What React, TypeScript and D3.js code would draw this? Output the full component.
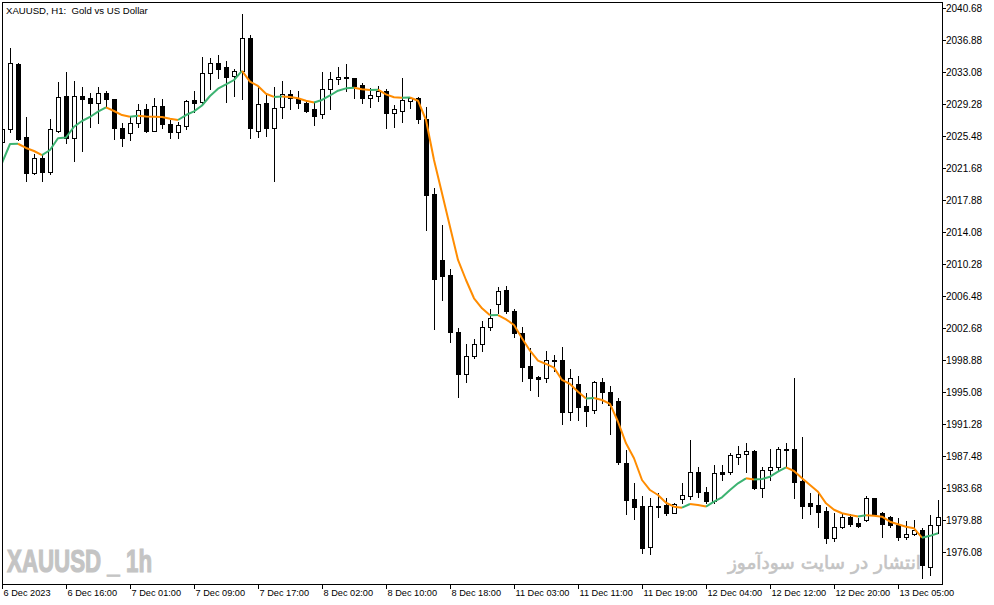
import React, {useEffect, useRef} from 'react';
import * as d3 from 'd3';

// XAUUSD H1 candles, 6 Dec 2023 .. 13 Dec 2023
const open = [
  2024.80, 2026.28, 2034.03, 2025.36, 2021.12, 2022.83, 2021.17, 2026.11, 2030.19, 2025.21,
  2030.27, 2029.99, 2029.43, 2030.55, 2029.87, 2026.43, 2025.80, 2026.99, 2028.69, 2026.11,
  2029.01, 2026.87, 2025.99, 2026.70, 2029.76, 2029.55, 2032.93, 2034.11, 2033.64, 2032.57,
  2033.20, 2037.08, 2026.11, 2029.36, 2026.39, 2028.89, 2030.43, 2029.96, 2029.36, 2028.69,
  2028.06, 2031.03, 2032.21, 2032.49, 2032.33, 2031.54, 2029.96, 2030.27, 2030.82, 2028.18,
  2028.48, 2029.67, 2029.96, 2027.50, 2018.59, 2010.76, 2008.97, 2002.17, 1997.18, 1999.39,
  2000.74, 2002.83, 2005.49, 2007.19, 2004.70, 2002.12, 1998.17, 1996.90, 1996.71, 1998.88,
  1998.88, 1992.74, 1996.03, 1993.42, 1992.94, 1996.23, 1995.04, 1994.01, 1986.68, 1982.37,
  1981.54, 1976.64, 1981.54, 1981.66, 1980.75, 1982.34, 1982.77, 1985.54, 1983.17, 1982.17,
  1985.54, 1985.54, 1987.40, 1987.68, 1988.07, 1983.64, 1985.82, 1986.14, 1988.19, 1988.31,
  1984.51, 1981.86, 1981.66, 1980.98, 1977.71, 1979.01, 1980.20, 1979.52, 1979.88, 1982.46,
  1980.68, 1980.27, 1979.29, 1977.90, 1978.18, 1978.69, 1974.33, 1979.29,
];
const high = [
  2026.43, 2035.89, 2034.15, 2027.70, 2023.34, 2023.34, 2027.50, 2031.93, 2033.08, 2032.01,
  2031.26, 2030.55, 2031.26, 2030.86, 2029.93, 2026.99, 2027.86, 2029.24, 2029.28, 2029.96,
  2029.84, 2027.38, 2027.18, 2029.76, 2030.82, 2034.83, 2034.78, 2035.06, 2034.42, 2033.47,
  2039.97, 2037.47, 2031.33, 2030.55, 2031.26, 2032.01, 2030.94, 2030.82, 2029.76, 2029.43,
  2033.12, 2033.04, 2033.64, 2034.03, 2032.37, 2031.81, 2031.14, 2031.42, 2031.03, 2029.16,
  2032.33, 2030.08, 2030.08, 2028.96, 2019.34, 2014.91, 2009.69, 2002.72, 2000.78, 2001.37,
  2003.51, 2004.90, 2007.58, 2007.67, 2004.94, 2002.76, 2000.27, 1996.98, 1999.95, 1999.47,
  2000.39, 1997.81, 1996.98, 1994.93, 1996.42, 1996.71, 1995.79, 1994.33, 1988.19, 1984.31,
  1982.73, 1982.53, 1983.05, 1982.53, 1981.93, 1984.24, 1989.38, 1986.14, 1983.76, 1986.41,
  1986.41, 1987.80, 1988.67, 1989.06, 1988.19, 1986.14, 1988.31, 1988.51, 1989.06, 1996.71,
  1989.77, 1983.05, 1983.05, 1981.39, 1980.68, 1980.68, 1980.56, 1980.15, 1982.77, 1982.49,
  1980.87, 1980.36, 1980.08, 1979.80, 1979.88, 1978.89, 1980.47, 1982.26,
];
const low = [
  2024.65, 2025.99, 2025.01, 2020.17, 2020.97, 2020.17, 2020.97, 2026.01, 2024.68, 2022.55,
  2023.70, 2026.51, 2027.02, 2028.92, 2025.09, 2024.33, 2025.01, 2026.51, 2025.92, 2026.07,
  2026.39, 2025.28, 2025.21, 2026.28, 2028.37, 2029.24, 2031.06, 2032.40, 2029.55, 2030.23,
  2029.84, 2025.21, 2025.40, 2025.52, 2020.17, 2027.65, 2028.69, 2028.77, 2028.37, 2026.79,
  2027.58, 2028.69, 2031.66, 2030.86, 2029.96, 2029.36, 2028.89, 2029.67, 2026.39, 2026.58,
  2027.11, 2028.77, 2026.99, 2014.32, 2002.53, 2006.01, 2001.05, 1994.52, 1996.30, 1999.15,
  1999.98, 2002.44, 2004.43, 2004.43, 2001.65, 1996.42, 1995.32, 1994.61, 1996.30, 1997.61,
  1991.28, 1991.76, 1991.76, 1991.08, 1992.62, 1993.81, 1990.09, 1986.49, 1980.59, 1980.03,
  1976.00, 1975.81, 1980.27, 1980.47, 1980.68, 1981.93, 1982.34, 1982.65, 1981.93, 1981.93,
  1984.63, 1985.31, 1986.53, 1985.54, 1983.56, 1982.65, 1984.63, 1985.82, 1986.21, 1982.53,
  1980.08, 1980.56, 1979.08, 1977.18, 1977.42, 1978.89, 1979.17, 1979.01, 1979.80, 1980.53,
  1977.90, 1979.01, 1977.51, 1977.62, 1978.10, 1972.96, 1973.35, 1978.30,
];
const close = [
  2026.31, 2034.11, 2025.18, 2021.12, 2022.83, 2021.24, 2026.28, 2030.08, 2025.21, 2030.23,
  2029.87, 2029.43, 2030.55, 2029.91, 2026.47, 2025.28, 2026.99, 2028.57, 2026.11, 2029.01,
  2026.87, 2025.99, 2026.75, 2029.64, 2029.43, 2032.93, 2034.11, 2033.47, 2032.52, 2033.16,
  2037.08, 2026.39, 2029.24, 2026.39, 2028.77, 2030.43, 2029.96, 2029.43, 2028.48, 2027.89,
  2031.03, 2032.21, 2032.45, 2032.33, 2031.45, 2029.96, 2030.35, 2030.86, 2028.18, 2028.65,
  2029.76, 2029.96, 2027.50, 2018.47, 2008.50, 2008.89, 2002.24, 1997.18, 1999.36, 2000.74,
  2002.83, 2003.83, 2007.07, 2004.73, 2002.05, 1998.08, 1996.78, 1996.66, 1998.88, 1998.76,
  1992.74, 1996.71, 1993.33, 1992.86, 1996.23, 1995.04, 1993.54, 1986.80, 1982.26, 1981.46,
  1976.59, 1981.54, 1981.48, 1980.75, 1981.78, 1982.81, 1985.54, 1983.17, 1982.17, 1985.43,
  1985.38, 1987.60, 1987.68, 1988.07, 1983.64, 1985.82, 1986.14, 1988.31, 1988.35, 1984.43,
  1981.58, 1981.58, 1980.87, 1977.71, 1979.01, 1980.20, 1979.41, 1979.20, 1982.46, 1980.59,
  1979.41, 1979.29, 1977.83, 1978.18, 1978.69, 1974.54, 1979.25, 1980.27,
];
// moving average line as drawn on the chart
const ma = [
  2022.27, 2024.53, 2024.56, 2024.06, 2023.70, 2023.22, 2023.82, 2025.21, 2025.30, 2026.58,
  2027.26, 2027.74, 2028.37, 2028.89, 2028.45, 2027.97, 2027.77, 2027.89, 2027.80, 2027.78,
  2027.74, 2027.52, 2027.38, 2027.97, 2028.41, 2029.10, 2030.23, 2031.10, 2031.60, 2032.13,
  2033.22, 2031.93, 2031.42, 2030.50, 2030.12, 2030.16, 2030.12, 2029.96, 2029.67, 2029.46,
  2029.76, 2030.29, 2030.86, 2031.14, 2031.22, 2031.03, 2030.94, 2030.98, 2030.43, 2030.08,
  2030.02, 2030.05, 2029.67, 2027.38, 2022.63, 2018.68, 2014.71, 2010.76, 2008.38, 2006.21,
  2005.02, 2004.19, 2004.22, 2003.71, 2003.04, 2001.46, 1999.98, 1998.80, 1998.41, 1997.97,
  1996.51, 1996.03, 1995.12, 1994.31, 1994.37, 1994.13, 1993.66, 1991.55, 1988.99, 1987.21,
  1984.63, 1983.44, 1982.85, 1981.93, 1981.46, 1981.34, 1981.78, 1981.66, 1981.48, 1982.05,
  1982.58, 1983.44, 1984.24, 1984.83, 1984.69, 1984.75, 1985.02, 1985.62, 1986.14, 1985.70,
  1984.83, 1984.04, 1983.24, 1981.86, 1981.10, 1980.68, 1980.47, 1980.30, 1980.44, 1980.39,
  1980.27, 1979.68, 1979.37, 1979.08, 1978.89, 1977.78, 1978.00, 1978.30,
];

const timeLabelBars = [0, 8, 16, 24, 32, 40, 48, 56, 64, 72, 80, 88, 96, 104, 112];
const timeLabels = [
  '6 Dec 2023', '6 Dec 16:00', '7 Dec 01:00', '7 Dec 09:00', '7 Dec 17:00',
  '8 Dec 02:00', '8 Dec 10:00', '8 Dec 18:00', '11 Dec 03:00', '11 Dec 11:00',
  '11 Dec 19:00', '12 Dec 04:00', '12 Dec 12:00', '12 Dec 20:00', '13 Dec 05:00',
];
const priceTicks = [
  2040.68, 2036.88, 2033.08, 2029.28, 2025.48, 2021.68, 2017.88, 2014.08, 2010.28,
  2006.48, 2002.68, 1998.88, 1995.08, 1991.28, 1987.48, 1983.68, 1979.88, 1976.08,
];

const FONT = 'Liberation Sans, Arial, sans-serif';
const UP = '#3cb371';
const DOWN = '#ff8c00';

export default function App() {
  const el = useRef<SVGSVGElement>(null);

  useEffect(() => {
    const svg = d3.select(el.current);
    svg.selectAll('*').remove();

    const x = d3.scaleLinear().domain([0, open.length - 1]).range([2, 2 + 8 * (open.length - 1)]);
    const y = d3.scaleLinear().domain([2040.68, 1976.08]).range([8, 552]);

    svg.append('rect').attr('width', 994).attr('height', 605).attr('fill', '#fff');

    svg.append('defs').append('clipPath').attr('id', 'plot')
      .append('rect').attr('x', 3).attr('y', 3).attr('width', 939).attr('height', 581);

    // watermarks
    svg.append('text')
      .attr('x', 7).attr('y', 572)
      .attr('font-family', FONT).attr('font-weight', 'bold').attr('font-size', 32)
      .attr('textLength', 145).attr('lengthAdjust', 'spacingAndGlyphs')
      .attr('fill', '#c4c4c4').attr('stroke', '#c4c4c4').attr('stroke-width', 1.2)
      .text('XAUUSD _ 1h');
    svg.append('text')
      .attr('x', 921).attr('y', 569)
      .attr('text-anchor', 'end')
      .attr('font-family', 'DejaVu Sans, sans-serif').attr('font-size', 18.5)
      .attr('fill', '#c4c4c4').attr('stroke', '#c4c4c4').attr('stroke-width', 0.6)
      .text('انتشار در سایت سودآموز');

    const plot = svg.append('g').attr('clip-path', 'url(#plot)');
    const idx = d3.range(open.length);

    // wicks
    plot.selectAll('line.wick').data(idx).join('line')
      .attr('class', 'wick')
      .attr('x1', i => Math.round(x(i)) + 0.5)
      .attr('x2', i => Math.round(x(i)) + 0.5)
      .attr('y1', i => Math.round(y(high[i])))
      .attr('y2', i => Math.round(y(low[i])) + 1)
      .attr('stroke', '#000');

    // bodies
    idx.forEach(i => {
      const cx = Math.round(x(i));
      const t = Math.round(y(Math.max(open[i], close[i])));
      const b = Math.round(y(Math.min(open[i], close[i])));
      if (b - t < 1) {
        plot.append('line')
          .attr('x1', cx - 2).attr('x2', cx + 3)
          .attr('y1', t + 0.5).attr('y2', t + 0.5)
          .attr('stroke', '#000');
      } else {
        plot.append('rect')
          .attr('x', cx - 1.5).attr('y', t + 0.5)
          .attr('width', 4).attr('height', b - t)
          .attr('fill', close[i] >= open[i] ? '#fff' : '#000')
          .attr('stroke', '#000');
      }
    });

    // moving average, green while rising, orange while falling
    const line = d3.line<number>().x(i => x(i)).y(i => y(ma[i]));
    let colour = UP;
    let run: number[] = [0];
    const runs: {pts: number[]; c: string}[] = [];
    for (let i = 1; i < ma.length; i++) {
      const c = ma[i] > ma[i - 1] ? UP : ma[i] < ma[i - 1] ? DOWN : colour;
      if (c !== colour && run.length > 1) {
        runs.push({pts: run, c: colour});
        run = [i - 1];
      }
      colour = c;
      run.push(i);
    }
    runs.push({pts: run, c: colour});
    plot.selectAll('path.ma').data(runs).join('path')
      .attr('class', 'ma')
      .attr('d', r => line(r.pts))
      .attr('fill', 'none')
      .attr('stroke', r => r.c)
      .attr('stroke-width', 2)
      .attr('stroke-linejoin', 'round');

    // frame
    svg.append('rect')
      .attr('x', 2.5).attr('y', 2.5).attr('width', 940).attr('height', 582)
      .attr('fill', 'none').attr('stroke', '#000');

    // price axis
    svg.append('g')
      .attr('transform', 'translate(942,0)')
      .call(d3.axisRight(y).tickValues(priceTicks).tickSize(4).tickPadding(0)
        .tickFormat(d => (d as number).toFixed(2)))
      .call(g => g.select('.domain').remove())
      .call(g => g.selectAll('text').attr('font-family', FONT).attr('font-size', 10).attr('fill', '#000'));

    // time axis
    svg.append('g')
      .attr('transform', 'translate(0,584)')
      .call(d3.axisBottom(x).tickValues(timeLabelBars).tickSize(5).tickPadding(0)
        .tickFormat((_, k) => timeLabels[k]))
      .call(g => g.select('.domain').remove())
      .call(g => g.selectAll('text')
        .attr('font-family', FONT).attr('font-size', 9.2).attr('fill', '#000')
        .attr('text-anchor', 'start').attr('x', 1).attr('dy', '0.78em'));

    svg.append('text')
      .attr('x', 6).attr('y', 14)
      .attr('font-family', FONT).attr('font-size', 9.6)
      .style('white-space', 'pre')
      .text('XAUUSD, H1:  Gold vs US Dollar');
  }, []);

  return (
    <div style={{position: 'absolute', left: 0, top: 0}}>
      <svg ref={el} width={994} height={605} style={{display: 'block'}} />
    </div>
  );
}
